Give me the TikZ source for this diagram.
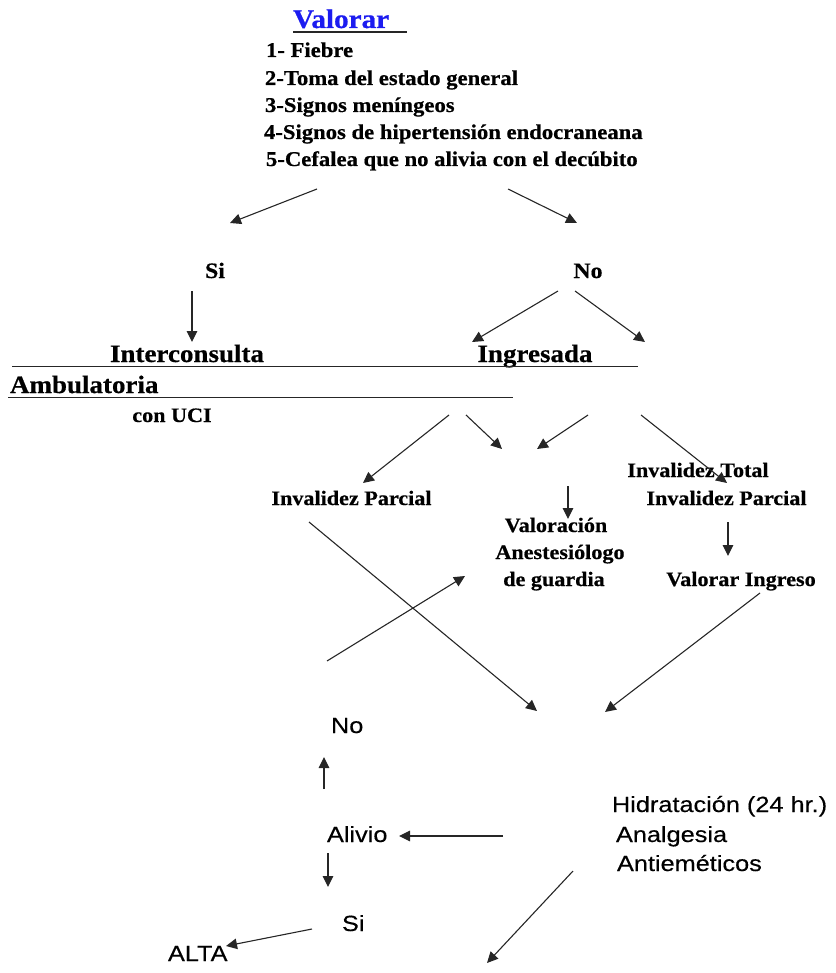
\documentclass[tikz,border=0pt]{standalone}
\usepackage{fontspec}
\setmainfont{Liberation Serif}[FakeStretch=1.08]
\newfontfamily\sbf{Liberation Serif}[UprightFont={* Bold}, FakeStretch=1.08, FakeBold=0.6]
\newfontfamily\arialf{Liberation Sans}[FakeStretch=1.15, FakeBold=0.3]
\usetikzlibrary{arrows.meta}
\definecolor{valblue}{RGB}{28,28,240}
\tikzset{
  txt/.style={inner sep=0pt, outer sep=0pt},
  lst/.style={txt, anchor=base west, font=\sbf\fontsize{21}{25}\selectfont},
  big/.style={txt, anchor=base, font=\sbf\fontsize{25}{30}\selectfont},
  mid/.style={txt, anchor=base, font=\sbf\fontsize{20.5}{25}\selectfont},
  yn/.style={txt, anchor=base, font=\sbf\fontsize{22}{26}\selectfont},
  sans/.style={txt, anchor=base west, font=\arialf\fontsize{22}{26}\selectfont},
  arr/.style={-{Triangle[length=11pt,width=10.5pt]}, line width=1.1pt, draw=black!85},
  rule/.style={line width=1.2pt, draw=black!85}
}
\begin{document}
\begin{tikzpicture}[x=1pt,y=-1pt]
\useasboundingbox (0,0) rectangle (835,973);

% title and list
\node[txt, anchor=base west, text=valblue, font=\sbf\fontsize{27}{32}\selectfont] (valorar) at (293,28) {Valorar};
\coordinate (ulA) at (293,32); \coordinate (ulB) at (407,32);
\draw[rule] (ulA) -- (ulB);
\node[lst] (l1) at (266,57) {1- Fiebre};
\node[lst] (l2) at (265,85) {2-Toma del estado general};
\node[lst] (l3) at (265,112) {3-Signos meníngeos};
\node[lst] (l4) at (264,139) {4-Signos de hipertensión endocraneana};
\node[lst] (l5) at (266,166) {5-Cefalea que no alivia con el decúbito};

% Si / No
\node[yn] (si1) at (215,278) {Si};
\node[yn] (no1) at (588,278) {No};
\node[big] (inter) at (187,362) {Interconsulta};
\node[big] (ingr) at (535,362) {Ingresada};
\node[txt, anchor=base west, font=\sbf\fontsize{25}{30}\selectfont] (amb) at (10,393) {Ambulatoria};
\node[mid] (uci) at (172,422) {con UCI};
\coordinate (r1a) at (12,366.5); \coordinate (r1b) at (638,366.5);
\coordinate (r2a) at (8,397.5); \coordinate (r2b) at (513,397.5);
\draw[rule] (r1a) -- (r1b);
\draw[rule] (r2a) -- (r2b);

% middle row
\node[mid] (invp1) at (351.5,505) {Invalidez Parcial};
\node[mid] (invt) at (698,477) {Invalidez Total};
\node[mid] (invp2) at (726.5,505) {Invalidez Parcial};
\node[mid] (vl1) at (556,532) {Valoración};
\node[mid] (vl2) at (560,559) {Anestesiólogo};
\node[mid] (vl3) at (554,586) {de guardia};
\node[mid] (vingr) at (741,586) {Valorar Ingreso};

% bottom (sans)
\node[sans] (no2) at (331,733) {No};
\node[sans] (alivio) at (327,842) {Alivio};
\node[sans] (si2) at (342,931) {Si};
\node[sans] (alta) at (168,961) {ALTA};
\node[sans] (hid) at (612,812) {Hidratación (24 hr.)};
\node[sans] (anal) at (616,842) {Analgesia};
\node[sans] (anti) at (617,871) {Antieméticos};

% connector end points
\coordinate (a1s) at (317,189); \coordinate (a1e) at (230,223);
\coordinate (a2s) at (508,189); \coordinate (a2e) at (577,223);
\coordinate (a3s) at (192,291); \coordinate (a3e) at (192,342);
\coordinate (a4s) at (558,291); \coordinate (a4e) at (472,342);
\coordinate (a5s) at (575,291); \coordinate (a5e) at (645,342);
\coordinate (a6s) at (449,415); \coordinate (a6e) at (363,483);
\coordinate (a7s) at (466,415); \coordinate (a7e) at (502,449);
\coordinate (a8s) at (588,415); \coordinate (a8e) at (537,449);
\coordinate (a9s) at (641,415); \coordinate (a9e) at (727,483);
\coordinate (a10s) at (568,486); \coordinate (a10e) at (568,519);
\coordinate (a11s) at (728,522); \coordinate (a11e) at (728,556);
\coordinate (a12s) at (309,522); \coordinate (a12e) at (537,711);
\coordinate (a13s) at (327,661); \coordinate (a13e) at (465,576);
\coordinate (a14s) at (760,593); \coordinate (a14e) at (605,712);
\coordinate (a15s) at (324,789); \coordinate (a15e) at (324,757);
\coordinate (a16s) at (503,836); \coordinate (a16e) at (399,836);
\coordinate (a17s) at (328,853); \coordinate (a17e) at (328,887);
\coordinate (a18s) at (312,929); \coordinate (a18e) at (226,946);
\coordinate (a19s) at (573,871); \coordinate (a19e) at (487,963);

\foreach \i in {1,...,19} { \draw[arr] (a\i s) -- (a\i e); }
\end{tikzpicture}
\end{document}
